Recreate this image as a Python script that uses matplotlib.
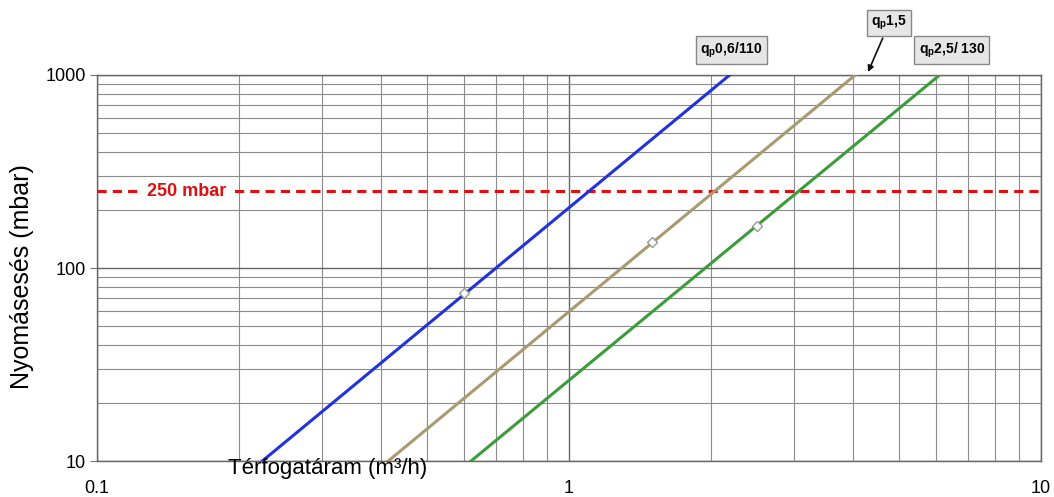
import matplotlib

matplotlib.use("Agg")

import matplotlib.pyplot as plt
from matplotlib.ticker import LogLocator, NullFormatter, FixedLocator, FixedFormatter

# flow [m3/h] and pressure drop [mbar] at the ends of each curve
series_names = [r"$\mathbf{q_p}$0,6/110", r"$\mathbf{q_p}$1,5", r"$\mathbf{q_p}$2,5/ 130"]
series_q = [[0.224, 2.19], [0.414, 4.04], [0.62, 6.1]]
series_dp = [[10, 1000], [10, 1000], [10, 1000]]
series_colors = ["#2233dd", "#a99a72", "#3c9c3c"]
# marked nominal points
point_q = [0.6, 1.5, 2.5]
point_dp = [74, 136, 165]

limit_dp = 250
limit_label = "250 mbar"

x_ticks = [0.1, 1, 10]
x_tick_labels = ["0.1", "1", "10"]
y_ticks = [10, 100, 1000]
y_tick_labels = ["10", "100", "1000"]

plt.rcParams["font.family"] = ["Liberation Sans", "DejaVu Sans"]
plt.rcParams["mathtext.fontset"] = "custom"
plt.rcParams["mathtext.bf"] = "Liberation Sans:bold"

fig = plt.figure(figsize=(10.54, 4.97), dpi=100)
ax = fig.add_axes([0.092, 0.0724, 0.8957, 0.7767])

ax.set_xscale("log")
ax.set_yscale("log")
ax.set_xlim(0.1, 10)
ax.set_ylim(10, 1000)

ax.xaxis.set_major_locator(FixedLocator(x_ticks))
ax.xaxis.set_major_formatter(FixedFormatter(x_tick_labels))
ax.yaxis.set_major_locator(FixedLocator(y_ticks))
ax.yaxis.set_major_formatter(FixedFormatter(y_tick_labels))
ax.xaxis.set_minor_locator(LogLocator(base=10, subs=range(2, 10)))
ax.yaxis.set_minor_locator(LogLocator(base=10, subs=range(2, 10)))
ax.xaxis.set_minor_formatter(NullFormatter())
ax.yaxis.set_minor_formatter(NullFormatter())

ax.grid(which="major", color="#666666", linewidth=1.0)
ax.grid(which="minor", color="#8c8c8c", linewidth=0.8)
ax.set_axisbelow(True)
for side, sp in ax.spines.items():
    sp.set_color("#666666")
    sp.set_linewidth(1.0)

ax.tick_params(axis="y", which="major", length=5, color="#777777", labelsize=13, pad=3)
ax.tick_params(axis="x", which="major", length=0, labelsize=13, pad=14)
ax.tick_params(which="minor", length=0)

ax.axhline(limit_dp, color="#dd1111", linestyle=(0, (3, 2)), linewidth=2.2, zorder=3)
ax.text(0.155, limit_dp, limit_label, color="#dd1111", fontsize=13, fontweight="bold",
        ha="center", va="center", zorder=4,
        bbox=dict(facecolor="white", edgecolor="none", pad=3))

for q, dp, color in zip(series_q, series_dp, series_colors):
    ax.plot(q, dp, color=color, linewidth=2.2, zorder=5)

ax.plot(point_q, point_dp, linestyle="none", marker="D", markersize=5,
        markerfacecolor="white", markeredgecolor="#999999", markeredgewidth=1.0, zorder=6)

box = dict(boxstyle="square,pad=0.3", facecolor="#e6e6e6", edgecolor="#888888", linewidth=1.0)
ax.text(2.21, 1347, series_names[0], fontsize=10, fontweight="bold", ha="center",
        va="center", bbox=box, clip_on=False)
ax.annotate(series_names[1], xy=(4.3, 1036), xytext=(4.77, 1860),
            fontsize=10, fontweight="bold", ha="center", va="center", bbox=box,
            arrowprops=dict(arrowstyle="-|>", color="#111111", linewidth=1.2,
                            shrinkA=1, shrinkB=0, mutation_scale=9),
            annotation_clip=False)
ax.text(6.47, 1347, series_names[2], fontsize=10, fontweight="bold", ha="center",
        va="center", bbox=box, clip_on=False)

fig.text(0.311, 0.058, "Térfogatáram (m³/h)", fontsize=16, ha="center", va="center")
fig.text(0.021, 0.443, "Nyomásesés (mbar)", fontsize=18, rotation=90, ha="center", va="center")

fig.savefig("out.png", dpi=100)
